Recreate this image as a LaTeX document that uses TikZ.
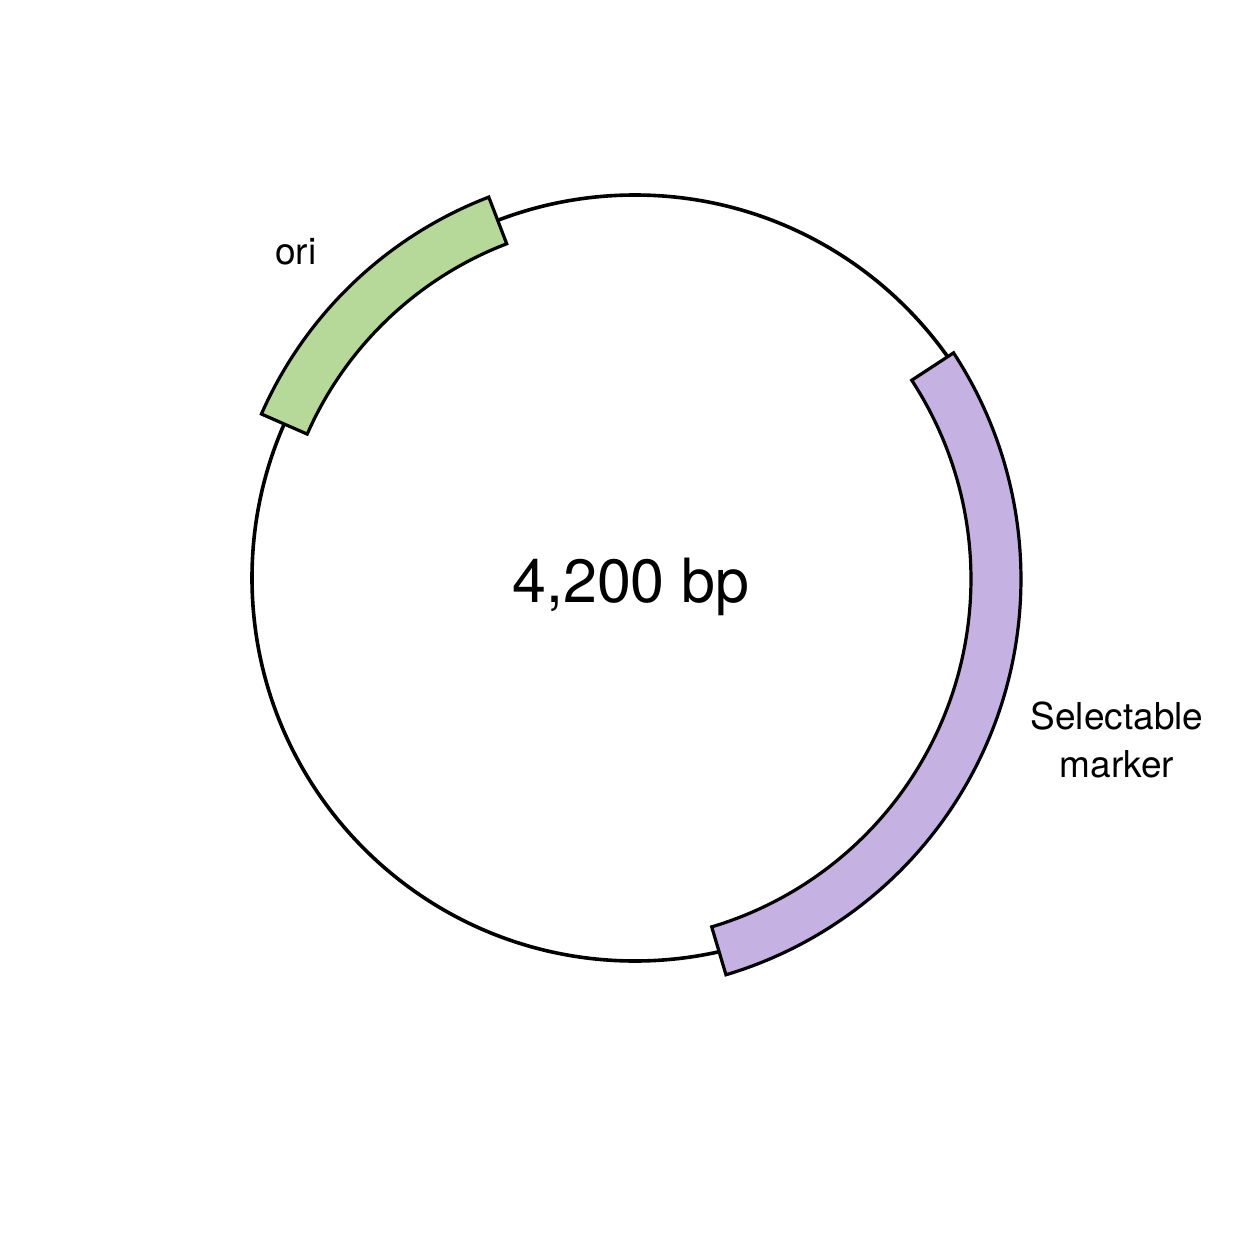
\documentclass[tikz,border=0pt]{standalone}
\usepackage{fontspec}
\setmainfont{TeX Gyre Heros}
\definecolor{oricol}{RGB}{182,216,152}
\definecolor{selcol}{RGB}{198,178,226}
\tikzset{
  backbone/.style={draw=black, line width=3.6pt},
  featband/.style={draw=black, line width=3.2pt, line join=miter},
  lbl/.style={inner sep=0pt, font=\fontsize{37}{47}\selectfont},
  sizelbl/.style={inner sep=0pt, font=\fontsize{61}{70}\selectfont}
}
\begin{document}
\begin{tikzpicture}[x=1pt,y=1pt]
  \useasboundingbox (-635,-676) rectangle (619,578);
  \fill[white] (-635,-676) rectangle (619,578);
  % backbone
  \draw[backbone] (0,0) circle[radius=383];
  % ori band
  \draw[featband, fill=oricol]
    (111:408) arc[start angle=111, end angle=156.3, radius=408]
    -- (156.3:358) arc[start angle=156.3, end angle=111, radius=358] -- cycle;
  % selectable marker band
  \begin{scope}[shift={(-27,-1)}]
    \draw[featband, fill=selcol]
      (33.2:413) arc[start angle=33.2, end angle=-73.4, radius=413]
      -- (-73.4:363) arc[start angle=-73.4, end angle=33.2, radius=363] -- cycle;
  \end{scope}
  % labels
  \node[lbl, anchor=base west] (ori) at (-360,313) {ori};
  \node[sizelbl, anchor=base] (size) at (-4,-24) {4,200 bp};
  \node[lbl, anchor=base] (sel1) at (482,-151) {Selectable};
  \node[lbl, anchor=base] (sel2) at (482,-199) {marker};
\end{tikzpicture}
\end{document}
